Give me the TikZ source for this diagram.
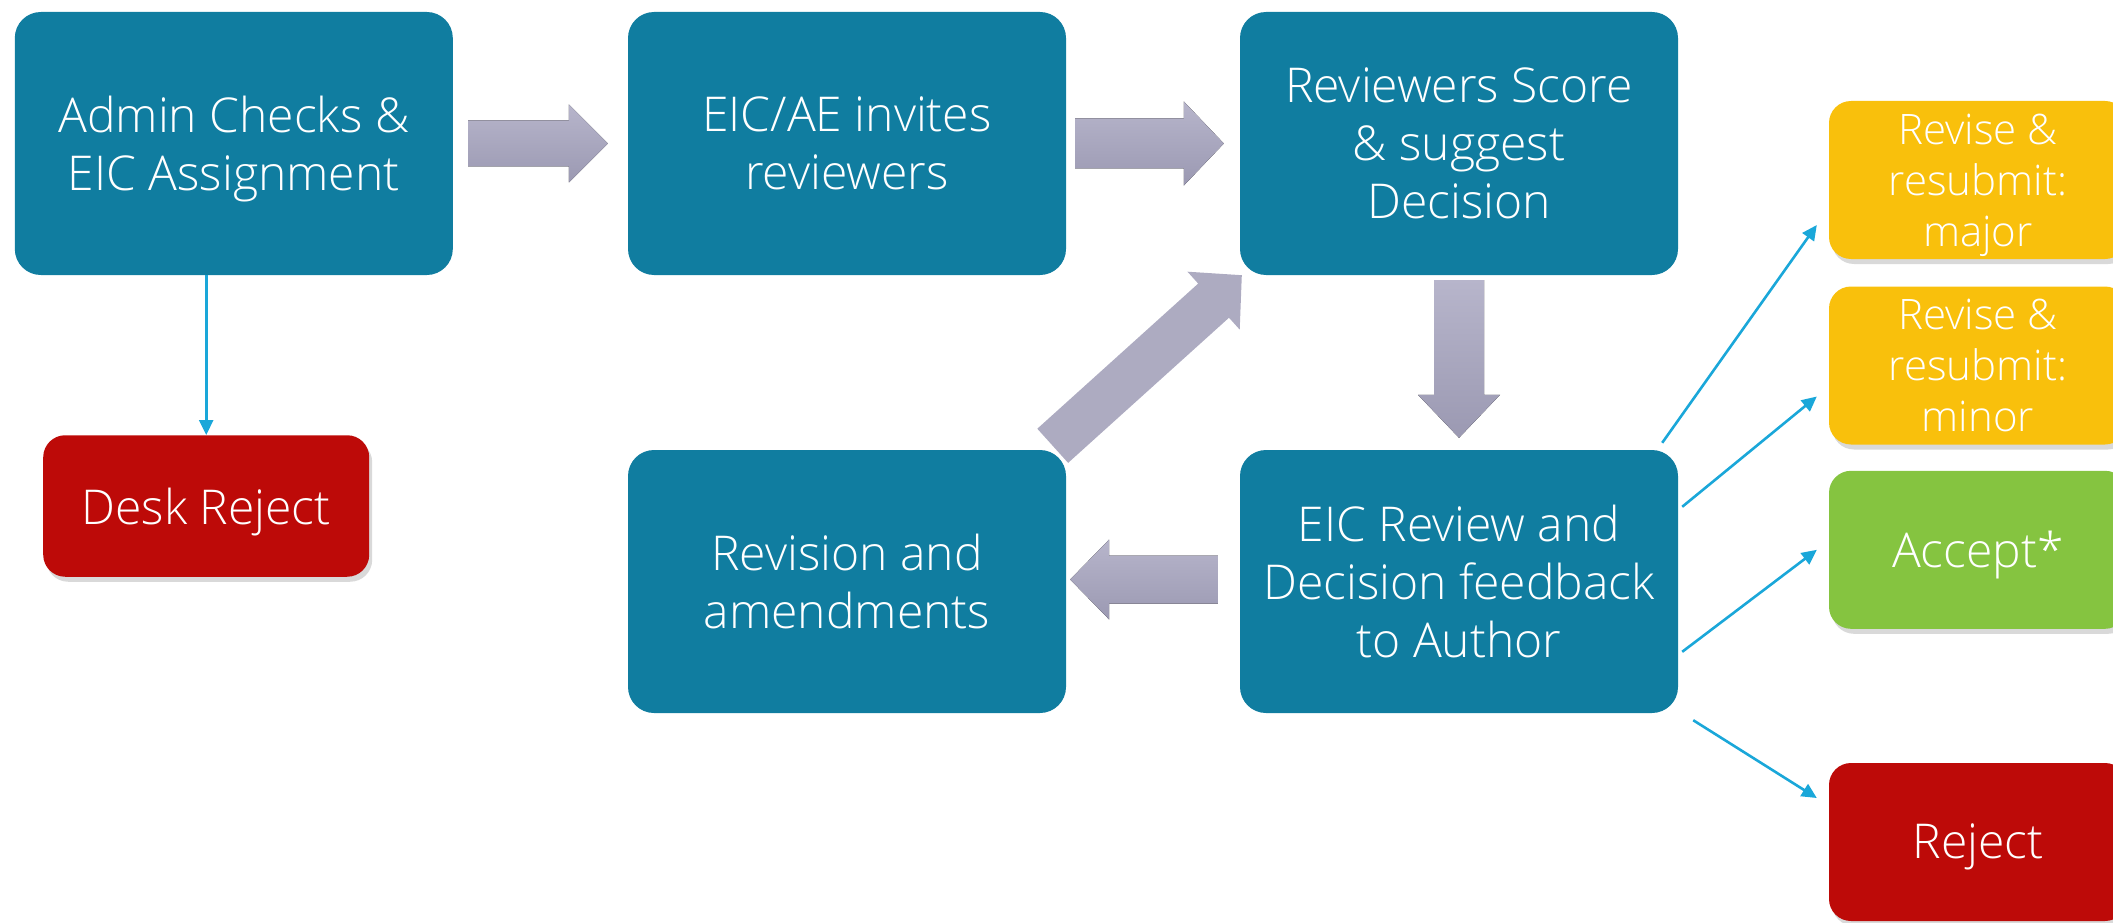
\documentclass[tikz,border=0pt]{standalone}
\usepackage{fontspec}
\setmainfont{Open Sans}[UprightFont={* Light}]
\usetikzlibrary{calc,shadows,arrows.meta}
\definecolor{boxteal}{RGB}{16,125,160}
\definecolor{boxred}{RGB}{189,10,8}
\definecolor{boxyellow}{RGB}{249,192,12}
\definecolor{boxgreen}{RGB}{133,196,64}
\definecolor{connblue}{RGB}{26,167,217}
\definecolor{arrowtop}{RGB}{183,181,203}
\definecolor{arrowbot}{RGB}{155,153,178}
\definecolor{arrowflat}{RGB}{173,171,193}
% #1 style, #2 tail, #3 tip, #4 shaft half width, #5 head half width, #6 head length
\newcommand\blockarrow[6][bigarrow]{%
  \coordinate (ba-base) at ($(#3)!#6!(#2)$);
  \fill[#1] ($(#2)!#4!90:(#3)$) -- ($(ba-base)!#4!90:(#3)$) -- ($(ba-base)!#5!90:(#3)$)
    -- (#3) -- ($(ba-base)!#5!-90:(#3)$) -- ($(ba-base)!#4!-90:(#3)$)
    -- ($(#2)!#4!-90:(#3)$) -- cycle;
}
\begin{document}
\begin{tikzpicture}[x=1pt,y=-1pt,
  box/.style={rounded corners=26pt, minimum width=438pt, minimum height=263pt,
    align=center, text=white, inner sep=0pt, font=\fontsize{48}{58}\selectfont},
  tealbox/.style={box, fill=boxteal},
  smallbox/.style={box, rounded corners=22pt, minimum width=298pt, minimum height=158pt,
    drop shadow={shadow xshift=3pt, shadow yshift=-5pt, opacity=0.3}},
  revbox/.style={smallbox, fill=boxyellow, font=\fontsize{42}{51}\selectfont},
  conn/.style={draw=connblue, line width=2.6pt, -{Triangle[length=15pt,width=14pt]}},
  bigarrow/.style={top color=arrowtop, bottom color=arrowbot, draw=none},
  flatarrow/.style={fill=arrowflat, draw=none},
]
\useasboundingbox (0,0) rectangle (2113,923);

% main process boxes
\node[tealbox] (admin)    at (233.8,143.5) {Admin Checks \&\\EIC Assi\smash{g}nment};
\node[tealbox] (invite)   at (847,143.5)   {EIC/AE invites\\reviewers};
\node[tealbox] (score)    at (1459,143.5)  {Reviewers Score\\\& suggest\\Decision};
\node[tealbox] (eicrev)   at (1459,581.5)  {EIC Review and\\Decision feedback\\to Author};
\node[tealbox] (revision) at (847,581.5)   {Revision and\\amendments};

% outcome boxes
\node[smallbox, fill=boxred, minimum width=326pt, minimum height=141.5pt] (desk) at (206.2,506) {Desk Re\smash{j}ect};
\node[revbox] (major)  at (1978,180)   {Revise \&\\resubmit:\\ma\smash{j}or};
\node[revbox] (minor)  at (1978,365.5) {Revise \&\\resubmit:\\minor};
\node[smallbox, fill=boxgreen] (accept) at (1978,549.8) {Acce\smash{p}t*};
\node[smallbox, fill=boxred]   (reject) at (1978,842)   {Re\smash{j}ect};

% block arrows
\coordinate (a1s) at ($(admin.east)+(15,0)$);
\coordinate (a1t) at ($(invite.west)+(-20,0)$);
\blockarrow{a1s}{a1t}{23pt}{39pt}{39pt}
\coordinate (a2s) at ($(invite.east)+(9,0)$);
\coordinate (a2t) at ($(score.west)+(-16,0)$);
\blockarrow{a2s}{a2t}{25pt}{42pt}{40pt}
\coordinate (a3s) at ($(score.south)+(0,5)$);
\coordinate (a3t) at ($(eicrev.north)+(0,-12)$);
\blockarrow{a3s}{a3t}{25pt}{41pt}{43pt}
\coordinate (a4s) at ($(eicrev.west)+(-22,-2)$);
\coordinate (a4t) at ($(revision.east)+(4,-2)$);
\blockarrow{a4s}{a4t}{24pt}{40pt}{39pt}
\coordinate (a5s) at ($(revision.north east)+(-13.5,-4)$);
\coordinate (a5t) at ($(score.south west)+(2,0)$);
\blockarrow[flatarrow]{a5s}{a5t}{23pt}{39pt}{38pt}

% thin connectors
\draw[conn] (admin.south -| desk.north) -- (desk.north);
\draw[conn] ($(eicrev.north east)+(-16,-7)$) -- ($(major.west)+(-12,45)$);
\draw[conn] ($(eicrev.north east)+(4,57)$) -- ($(minor.west)+(-12,31)$);
\draw[conn] ($(eicrev.north east)+(4,202)$) -- ($(accept.west)+(-12,0)$);
\draw[conn] ($(eicrev.south east)+(15,7)$) -- ($(reject.west)+(-12,-44)$);
\end{tikzpicture}
\end{document}
